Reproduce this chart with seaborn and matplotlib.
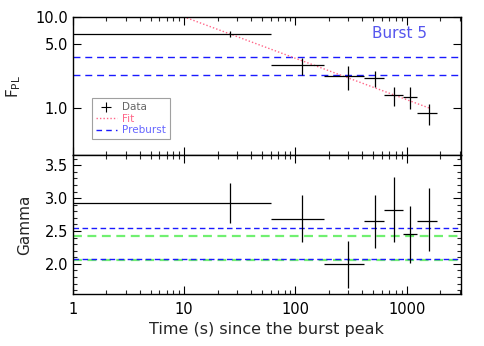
import numpy as np
import pandas as pd
import matplotlib
matplotlib.use("Agg")
import matplotlib.pyplot as plt
import seaborn as sns
from matplotlib.ticker import FixedLocator, NullLocator, FormatStrFormatter, MultipleLocator, LogLocator, NullFormatter
from matplotlib.lines import Line2D

# ---- data ----
t_center = [25.9, 115, 296, 517, 771, 1081, 1579]
t_lo = [1.0, 60.5, 182, 414, 627, 923, 1245]
t_hi = [60.5, 182, 414, 627, 923, 1233, 1888]

flux = [6.46, 2.92, 2.21, 2.12, 1.37, 1.31, 0.867]
flux_lo = [6.0, 2.29, 1.57, 1.68, 1.045, 0.97, 0.645]
flux_hi = [7.0, 3.49, 2.87, 2.53, 1.68, 1.68, 1.09]

gamma = [2.93, 2.69, 1.995, 2.65, 2.826, 2.45, 2.66]
gamma_lo = [2.62, 2.33, 1.63, 2.245, 2.34, 2.02, 2.19]
gamma_hi = [3.235, 3.05, 2.35, 3.05, 3.32, 2.88, 3.16]

fit_t = [9.9, 1600]
fit_f = [10.0, 0.99]

preburst_flux = [3.63, 2.27]
preburst_gamma_blue = [2.55, 2.07]
preburst_gamma_green = [2.42, 2.055]

label_text = "Burst 5"

# ---- style ----
sns.set_style("ticks")
plt.rcParams['font.family'] = ['DejaVu Sans']
plt.rcParams['xtick.direction'] = 'in'
plt.rcParams['ytick.direction'] = 'in'

fig = plt.figure(figsize=(4.85, 3.46), dpi=100)
L, R = 0.15, 0.95
ax1 = fig.add_axes([L, 0.5506, R - L, 0.9517 - 0.5506])
ax2 = fig.add_axes([L, 0.150, R - L, 0.5506 - 0.150])

BLUE = "#1a1aff"
GREEN = "#70f070"
PINK = "#ff6688"
fs = 10.5
lfs = 11

def frame(ax):
    for s in ax.spines.values():
        s.set_linewidth(1.0)
        s.set_color("black")
    ax.tick_params(which='major', length=5.5, width=0.8, top=True, right=True,
                   labelsize=fs, colors='black')
    ax.tick_params(which='minor', length=3, width=0.8, top=True, right=True)
    ax.tick_params(axis='x', pad=6)
    ax.set_xscale('log')
    ax.set_xlim(1, 3060)
    ax.xaxis.set_major_locator(FixedLocator([1, 10, 100, 1000]))
    ax.xaxis.set_minor_locator(LogLocator(base=10, subs=np.arange(2, 10)))
    ax.xaxis.set_minor_formatter(NullFormatter())

frame(ax1)
frame(ax2)

# upper panel
for v in preburst_flux:
    ax1.axhline(v, color=BLUE, ls=(0, (5, 3.5)), lw=1.0)
df_fit = pd.DataFrame({"t": fit_t, "f": fit_f})
sns.lineplot(data=df_fit, x="t", y="f", ax=ax1, color=PINK, ls=(0, (1, 1.5)), lw=1.0)
t_c = np.array(t_center)
xerr = [t_c - np.array(t_lo), np.array(t_hi) - t_c]
f = np.array(flux)
ax1.errorbar(t_c, f, xerr=xerr, yerr=[f - np.array(flux_lo), np.array(flux_hi) - f],
             fmt='none', ecolor='black', elinewidth=0.9, capsize=0)
ax1.set_yscale('log')
ax1.set_ylim(0.2985, 10)
ax1.yaxis.set_major_locator(FixedLocator([1, 5, 10]))
ax1.yaxis.set_minor_locator(NullLocator())
ax1.yaxis.set_major_formatter(FormatStrFormatter('%.1f'))
ax1.set_xticklabels([])
ax1.set_xlabel("")
ax1.set_ylabel(r"F$_{\rm PL}$", fontsize=lfs)
ax1.yaxis.set_label_coords(-0.128, 0.5)
ax1.text(0.842, 0.88, label_text, transform=ax1.transAxes, color="#5555ee",
         fontsize=fs + 0.5, ha='center', va='center')

handles = [Line2D([], [], color='black', marker='+', ls='none', markersize=7, mew=0.8),
           Line2D([], [], color=PINK, ls=(0, (1, 1.5)), lw=1.0),
           Line2D([], [], color=BLUE, ls=(0, (4, 3)), lw=1.0)]
leg = ax1.legend(handles, ["Data", "Fit", "Preburst"], loc='upper left',
                 bbox_to_anchor=(0.049, 0.414), borderaxespad=0.0,
                 fontsize=7.5, frameon=True, fancybox=False,
                 handlelength=2.0, handletextpad=0.5, borderpad=0.4, labelspacing=0.15)
leg.get_frame().set_edgecolor("#888888")
leg.get_frame().set_linewidth(0.8)
for txt, c in zip(leg.get_texts(), ["#666666", PINK, "#6666ff"]):
    txt.set_color(c)

# lower panel
for vb, vg in zip(preburst_gamma_blue, preburst_gamma_green):
    ax2.axhline(vg, color=GREEN, ls=(0, (4, 2.5)), lw=1.6)
    ax2.axhline(vb, color=BLUE, ls=(0, (4, 2.5)), lw=1.0)
g = np.array(gamma)
ax2.errorbar(t_c, g, xerr=xerr, yerr=[g - np.array(gamma_lo), np.array(gamma_hi) - g],
             fmt='none', ecolor='black', elinewidth=0.9, capsize=0)
ax2.set_ylim(1.54, 3.65)
ax2.yaxis.set_major_locator(FixedLocator([2.0, 2.5, 3.0, 3.5]))
ax2.yaxis.set_minor_locator(MultipleLocator(0.1))
ax2.yaxis.set_major_formatter(FormatStrFormatter('%.1f'))
ax2.set_xticklabels(["1", "10", "100", "1000"])
ax2.set_ylabel("Gamma", fontsize=lfs)
ax2.yaxis.set_label_coords(-0.104, 0.5)
ax2.set_xlabel("Time (s) since the burst peak", fontsize=11.5, labelpad=3)

fig.savefig("out.png", dpi=100)
